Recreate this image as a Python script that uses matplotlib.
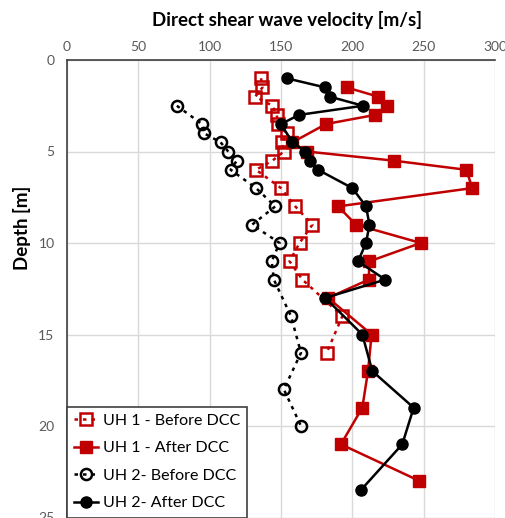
import matplotlib
matplotlib.use("Agg")
import matplotlib.pyplot as plt

# ---- data ----
uh1_before_depth = [1, 1.5, 2, 2.5, 3, 3.5, 4, 4.5, 5, 5.5, 6, 7, 8, 9, 10, 11, 12, 14, 16]
uh1_before_vs = [136, 137, 132, 144, 147, 148, 154, 151, 152, 144, 132.5, 150, 160, 172, 163, 156, 165, 193, 182]

uh1_after_depth = [1.5, 2, 2.5, 3, 3.5, 4.5, 5, 5.5, 6, 7, 8, 9, 10, 11, 12, 13, 15, 17, 19, 21, 23]
uh1_after_vs = [196, 218, 224, 216, 181.5, 158, 168, 229, 280, 284, 190, 202.6, 248, 212, 211.5, 183, 213.5, 211, 207, 192, 247]

uh2_before_depth = [2.5, 3.5, 4, 4.5, 5, 5.5, 6, 7, 8, 9, 10, 11, 12, 14, 16, 18, 20]
uh2_before_vs = [77, 94.6, 96, 107.7, 113, 119, 114.7, 132.5, 146, 129.7, 149, 143.5, 145, 157, 164, 152, 164]

uh2_after_depth = [1, 1.5, 2, 2.5, 3, 3.5, 4.5, 5, 5.5, 6, 7, 8, 9, 10, 11, 12, 13, 15, 17, 19, 21, 23.5]
uh2_after_vs = [154, 181, 184, 207.5, 162.6, 150, 158, 167, 170, 176, 200, 209.6, 212, 209.6, 204, 223, 181, 207, 214, 243, 235, 206]

labels = ["UH 1 - Before DCC", "UH 1 - After DCC", "UH 2- Before DCC", "UH 2- After DCC"]
x_ticks = [0, 50, 100, 150, 200, 250, 300]
y_ticks = [0, 5, 10, 15, 20, 25]

RED = "#C00000"
BLACK = "#000000"
FONT = ["Lato", "DejaVu Sans"]

plt.rcParams["font.family"] = FONT

W, H = 506, 518
fig = plt.figure(figsize=(W / 100, H / 100), dpi=100)
ax = fig.add_axes([67 / W, 1 - 517.5 / H, (495 - 67) / W, (517.5 - 60) / H])

dot = (0, (1.4, 2.0))
ms = 8
ax.plot(uh1_before_vs, uh1_before_depth, color=RED, lw=1.8, ls=dot, marker="s",
        ms=ms, mfc="none", mec=RED, mew=1.8, label=labels[0], zorder=3)
ax.plot(uh1_after_vs, uh1_after_depth, color=RED, lw=1.8, ls="-", marker="s",
        ms=ms, mfc=RED, mec=RED, label=labels[1], zorder=4)
ax.plot(uh2_before_vs, uh2_before_depth, color=BLACK, lw=1.8, ls=dot, marker="o",
        ms=ms, mfc="none", mec=BLACK, mew=1.8, label=labels[2], zorder=3)
ax.plot(uh2_after_vs, uh2_after_depth, color=BLACK, lw=1.8, ls="-", marker="o",
        ms=ms, mfc=BLACK, mec=BLACK, label=labels[3], zorder=5)

ax.set_xlim(0, 300)
ax.set_ylim(25, 0)
ax.set_xticks(x_ticks)
ax.set_yticks(y_ticks)
ax.xaxis.tick_top()
ax.tick_params(axis="both", length=0, labelsize=10, labelcolor="#595959")
ax.tick_params(axis="x", pad=5)
ax.tick_params(axis="y", pad=9)
ax.grid(True, color="#D9D9D9", lw=1)
ax.set_axisbelow(True)
for s in ["right", "bottom"]:
    ax.spines[s].set_visible(False)
for s in ["top", "left"]:
    ax.spines[s].set_color("#404040")
    ax.spines[s].set_linewidth(1.2)

fig.text(287 / W, 1 - 20 / H, "Direct shear wave velocity [m/s]", ha="center", va="center",
         fontsize=13.5, fontweight="bold")
fig.text(22 / W, 1 - 228 / H, "Depth [m]", ha="center", va="center", rotation=90,
         fontsize=13.5, fontweight="bold")

leg = ax.legend(loc="lower left", bbox_to_anchor=(0, 0), fancybox=False,
                edgecolor="#404040", framealpha=1, fontsize=11.5, handlelength=1.5,
                handletextpad=0.3, borderpad=0.45, labelspacing=0.83, borderaxespad=0)
leg.get_frame().set_linewidth(1.2)

fig.savefig("out.png", dpi=100)
